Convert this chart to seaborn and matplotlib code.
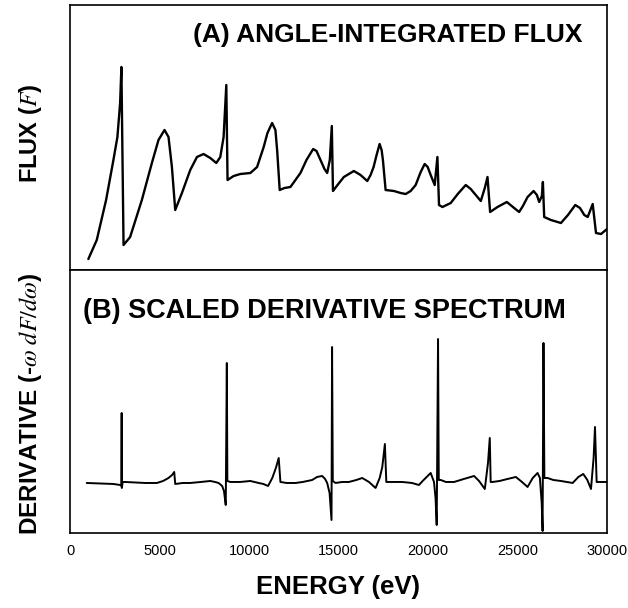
import matplotlib
matplotlib.use('Agg')
import matplotlib.pyplot as plt
import seaborn as sns
import pandas as pd

# panel A: angle-integrated flux (arbitrary units)
flux_energy = [1024, 1494, 2015, 2424, 2647, 2799, 2870, 2990, 3358, 4013,
               4573, 4942, 5278, 5502, 5692, 5877, 6252, 6716, 7091, 7461,
               7836, 8172, 8395, 8580, 8731, 8800, 9140, 9515, 10075, 10450,
               10819, 11030, 11289, 11474, 11570, 11714, 11977, 12313, 12873, 13209,
               13584, 13770, 13993, 14216, 14367, 14513, 14625, 14690, 14944, 15297,
               15857, 16231, 16606, 16791, 16959, 17127, 17295, 17407, 17480, 17631,
               18095, 18470, 18750, 19030, 19310, 19590, 19813, 19981, 20149, 20373,
               20524, 20614, 20804, 21269, 21660, 22108, 22388, 22573, 22948, 23172,
               23323, 23468, 23882, 24403, 24811, 25091, 25300, 25561, 25897, 26082,
               26210, 26360, 26417, 26490, 26866, 27425, 27817, 28226, 28490, 28730,
               28920, 29050, 29200, 29384, 29664, 30000]
flux_value = [11, 30, 70, 110, 133, 167, 203, 25, 33, 70,
              107, 130, 140, 133, 103, 60, 77, 100, 113, 116,
              112, 107, 113, 133, 185, 90, 94, 96, 97, 103,
              123, 137, 147, 140, 120, 80, 82, 83, 97, 110,
              121, 119, 110, 101, 97, 110, 144, 79, 85, 93,
              99, 95, 89, 95, 103, 115, 126, 120, 110, 80,
              79, 77, 76, 79, 85, 98, 106, 103, 95, 85,
              113, 65, 63, 67, 76, 85, 81, 77, 69, 82,
              93, 58, 63, 68, 62, 58, 64, 73, 79, 75,
              68, 74, 88, 53, 50, 47, 55, 65, 62, 55,
              53, 59, 66, 37, 36, 41]

# panel B: scaled derivative spectrum
deriv_energy = [935, 2424, 2798, 2870, 2885, 2895, 2940, 3079, 4200, 4853,
                5200, 5502, 5700, 5821, 5877, 6300, 6716, 7300, 7836, 8100,
                8300, 8500, 8600, 8700, 8760, 8790, 8955, 9500, 10075, 10539,
                10800, 11065, 11300, 11500, 11658, 11754, 12100, 12593, 13000, 13528,
                13800, 14087, 14250, 14367, 14500, 14608, 14640, 14680, 14832, 15200,
                15576, 16000, 16326, 16700, 17070, 17300, 17445, 17590, 17670, 18100,
                18565, 19100, 19494, 19700, 19869, 20149, 20334, 20420, 20485, 20560,
                20600, 20709, 21000, 21454, 22000, 22573, 22850, 23172, 23350, 23450,
                23500, 23600, 24000, 24440, 24907, 25250, 25561, 25850, 26120, 26250,
                26350, 26400, 26450, 26500, 26680, 27000, 27425, 28080, 28400, 28673,
                28900, 29104, 29250, 29328, 29420, 30000]
deriv_value = [0, -1, -2, -3, 70, -5, 1, 1, 0, 0,
               2, 5, 8, 11, -1, 0, 0, 1, 2, 1,
               0, -3, -8, -22, 120, 2, 1, 1, 2, 0,
               -1, -3, 5, 15, 25, 1, 0, 0, 1, 3,
               6, 7, 4, 0, -10, -37, 136, 2, 0, 1,
               1, 3, 5, 1, -5, 5, 16, 39, 1, 1,
               1, 0, -2, 2, 5, 10, 1, -15, -42, 144,
               3, 3, 1, 1, 4, 7, 2, -6, 20, 45,
               1, 1, 2, 4, 6, 1, -4, 5, 10, 5,
               -20, -48, 140, 5, 5, 3, 2, 0, 6, 9,
               3, -6, 25, 56, 1, 1]

energy_ticks = [0, 5000, 10000, 15000, 20000, 25000, 30000]

sns.set_style('white')
plt.rcParams['font.family'] = ['Liberation Sans', 'DejaVu Sans']
plt.rcParams['mathtext.fontset'] = 'stix'
plt.rcParams['text.color'] = 'black'
plt.rcParams['xtick.color'] = 'black'

fig = plt.figure(figsize=(6.28, 6.08), dpi=100)
ax_a = fig.add_axes([0.1115, 0.5559, 0.8551, 0.4359])
ax_b = fig.add_axes([0.1115, 0.1234, 0.8551, 0.4325])

df_a = pd.DataFrame({'energy': flux_energy, 'flux': flux_value})
df_b = pd.DataFrame({'energy': deriv_energy, 'deriv': deriv_value})

sns.lineplot(data=df_a, x='energy', y='flux', ax=ax_a, color='black',
             linewidth=1.7, estimator=None, sort=False)
sns.lineplot(data=df_b, x='energy', y='deriv', ax=ax_b, color='black',
             linewidth=1.4, estimator=None, sort=False)

for ax in (ax_a, ax_b):
    ax.set_xlim(0, 30000)
    ax.set_yticks([])
    ax.set_ylabel('')
    ax.set_xlabel('')
    for sp in ax.spines.values():
        sp.set_color('black')
        sp.set_linewidth(1.2)

ax_a.set_ylim(0, 265)
ax_a.set_xticks([])
ax_b.set_ylim(-50, 213)
ax_b.set_xticks(energy_ticks)
ax_b.set_xticklabels([str(t) for t in energy_ticks], fontsize=10.5)
ax_b.tick_params(axis='x', direction='in', length=5, width=1, pad=8)

ax_a.text(0.955, 0.885, '(A) ANGLE-INTEGRATED FLUX', transform=ax_a.transAxes,
          ha='right', va='center', fontsize=19, fontweight='bold')
ax_b.text(0.025, 0.845, '(B) SCALED DERIVATIVE SPECTRUM', transform=ax_b.transAxes,
          ha='left', va='center', fontsize=19.5, fontweight='bold')

fig.text(0.538, 0.035, 'ENERGY (eV)', ha='center', va='center',
         fontsize=18.5, fontweight='bold')
fig.text(0.049, 0.78, r'FLUX ($\mathit{F}$)', ha='center', va='center',
         rotation=90, fontsize=17, fontweight='bold')
fig.text(0.049, 0.335, r'DERIVATIVE (-$\omega\ dF/d\omega$)', ha='center', va='center',
         rotation=90, fontsize=17.5, fontweight='bold')

fig.savefig('out.png', dpi=100)
